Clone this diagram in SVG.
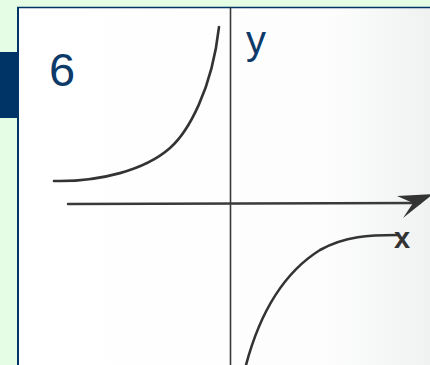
<svg xmlns="http://www.w3.org/2000/svg" width="430" height="365" viewBox="0 0 430 365">
  <defs>
    <linearGradient id="panelGrad" x1="0" y1="0" x2="1" y2="0">
      <stop offset="0" stop-color="#ffffff"/>
      <stop offset="0.75" stop-color="#fdfdfd"/>
      <stop offset="1" stop-color="#f0f2f2"/>
    </linearGradient>
  </defs>
  <style>
    .axis { stroke: #3a3a3a; fill: none; stroke-linecap: round; }
    .curve { stroke: #333333; stroke-width: 2.6; fill: none; stroke-linecap: round; }
    .label { font-family: "Liberation Sans", Arial, sans-serif; fill: #0d3a68; }
    .hand { font-family: "Liberation Sans", Arial, sans-serif; fill: #333333; font-weight: bold; }
  </style>
  <rect x="0" y="0" width="430" height="365" fill="#e4fde4"/>
  <g id="panel">
    <rect x="17" y="7" width="413" height="358" fill="url(#panelGrad)"/>
    <line x1="17" y1="7.5" x2="430" y2="7.5" stroke="#003366" stroke-width="1.5"/>
    <line x1="18" y1="7" x2="18" y2="365" stroke="#003366" stroke-width="2"/>
    <rect x="0" y="52" width="17" height="66" fill="#003366"/>
  </g>
  <g id="title">
    <text class="label" x="49" y="86" font-size="47">6</text>
  </g>
  <g id="connectors">
    <line class="axis" x1="230.5" y1="8" x2="230.5" y2="365" stroke-width="1.6"/>
    <line class="axis" x1="68" y1="204" x2="420" y2="203" stroke-width="2.4"/>
    <path d="M397,196 L433,194 L403,218 L413,203 Z" fill="#333333"/>
  </g>
  <g id="y-label">
    <text class="label" x="246" y="54" font-size="40">y</text>
  </g>
  <g id="x-label">
    <text class="hand" x="394" y="248" font-size="29">x</text>
  </g>
  <g id="upper-curve">
    <path class="curve" d="M54,181 C100,182 145,170 170,148 C188,132 212,90 219,27"/>
  </g>
  <g id="lower-curve">
    <path class="curve" d="M246,365 C258,320 280,275 320,250 C345,236 370,235 397,235"/>
  </g>
</svg>
